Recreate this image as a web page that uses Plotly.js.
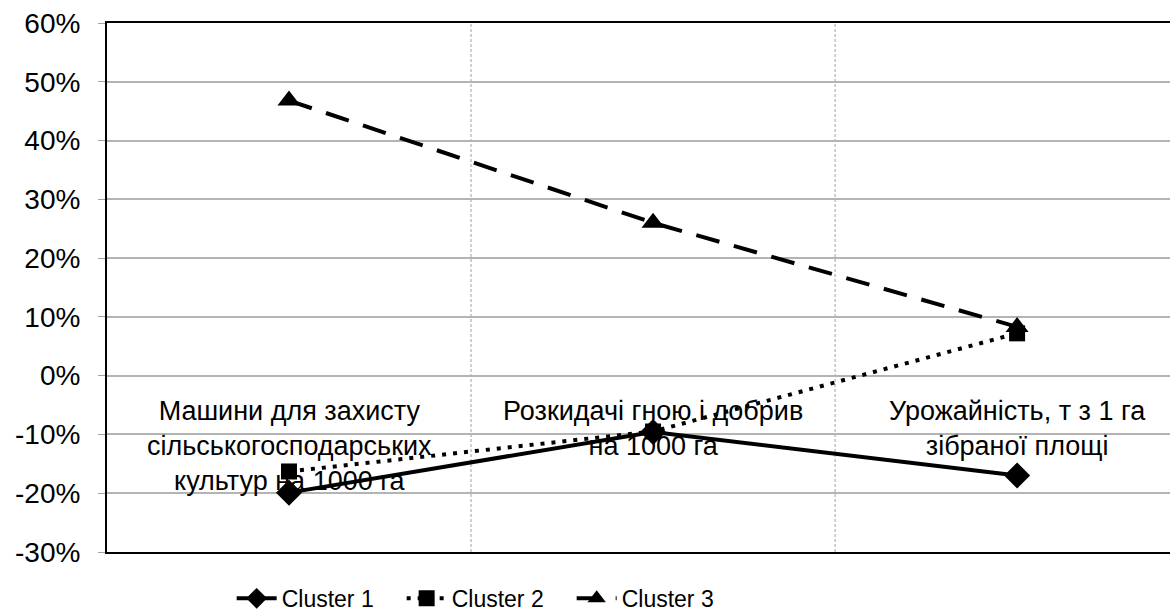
<!DOCTYPE html>
<html><head><meta charset="utf-8">
<script src="https://cdn.plot.ly/plotly-3.0.1.min.js"></script>
<style>body{margin:0;background:#fff}#c{width:1170px;height:615px}</style>
</head><body><div id="c"></div>
<script>
const categories = [
  "Машини для захисту<br>сільськогосподарських<br>культур на 1000 га",
  "Розкидачі гною і добрив<br>на 1000 га",
  "Урожайність, т з 1 га<br>зібраної площі"
];
const seriesNames = ["Cluster 1", "Cluster 2", "Cluster 3"];
const cluster1 = [-19.9, -9.6, -17.0];
const cluster2 = [-16.3, -9.5, 7.2];
const cluster3 = [46.8, 26.0, 8.3];
const yTicks = [-30, -20, -10, 0, 10, 20, 30, 40, 50, 60];

const xs = categories.map((c, i) => i);
const FONT = "Liberation Sans, Arial, sans-serif";

const traces = [
  {x: xs, y: cluster1, name: seriesNames[0], mode: "lines+markers",
   line: {color: "#000", width: 4, dash: "solid"},
   marker: {symbol: "diamond", size: 20, color: "#000"}},
  {x: xs, y: cluster2, name: seriesNames[1], mode: "lines+markers",
   line: {color: "#000", width: 4, dash: "4px,7px"},
   marker: {symbol: "square", size: 16, color: "#000"}},
  {x: xs, y: cluster3, name: seriesNames[2], mode: "lines+markers",
   line: {color: "#000", width: 4, dash: "24px,15px"},
   marker: {symbol: "triangle-up", size: 20, color: "#000"}}
];

const annotations = categories.map((c, i) => ({
  x: i, y: 0, xref: "x", yref: "y", text: c, showarrow: false,
  yanchor: "top", xanchor: "center", yshift: -18,
  font: {family: FONT, size: 27, color: "#000"}
}));

const shapes = [0.5, 1.5].map(v => ({
  type: "line", xref: "x", yref: "paper", x0: v, x1: v, y0: 0, y1: 1,
  line: {color: "#a0a0a0", width: 1, dash: "3px,2px"}, layer: "below"
}));

const layout = {
  width: 1170, height: 615,
  margin: {l: 107, r: 0, t: 23, b: 63},
  paper_bgcolor: "#fff", plot_bgcolor: "#fff",
  showlegend: true,
  legend: {orientation: "h", xref: "container", yref: "container",
           x: 0.198, xanchor: "left", y: 0.027, yanchor: "middle",
           entrywidth: 115, entrywidthmode: "pixels",
           font: {family: FONT, size: 23, color: "#000"}, itemwidth: 40, tracegroupgap: 0},
  xaxis: {range: [-0.5, 2.42], showgrid: false, zeroline: false, showticklabels: false,
          showline: true, linecolor: "#000", linewidth: 2, mirror: true, ticks: "", fixedrange: true},
  yaxis: {range: [-30, 60], tickvals: yTicks, ticktext: yTicks.map(v => v + "%"),
          showgrid: true, gridcolor: "#b4b4b4", gridwidth: 2, zeroline: false,
          showline: true, linecolor: "#000", linewidth: 2,
          ticks: "outside", ticklen: 7, tickcolor: "#a0a0a0", tickwidth: 1,
          ticklabelstandoff: 12,
          tickfont: {family: FONT, size: 28, color: "#000"}},
  annotations: annotations,
  shapes: shapes
};
Plotly.newPlot("c", traces, layout, {displayModeBar: false, staticPlot: true});
</script></body></html>
